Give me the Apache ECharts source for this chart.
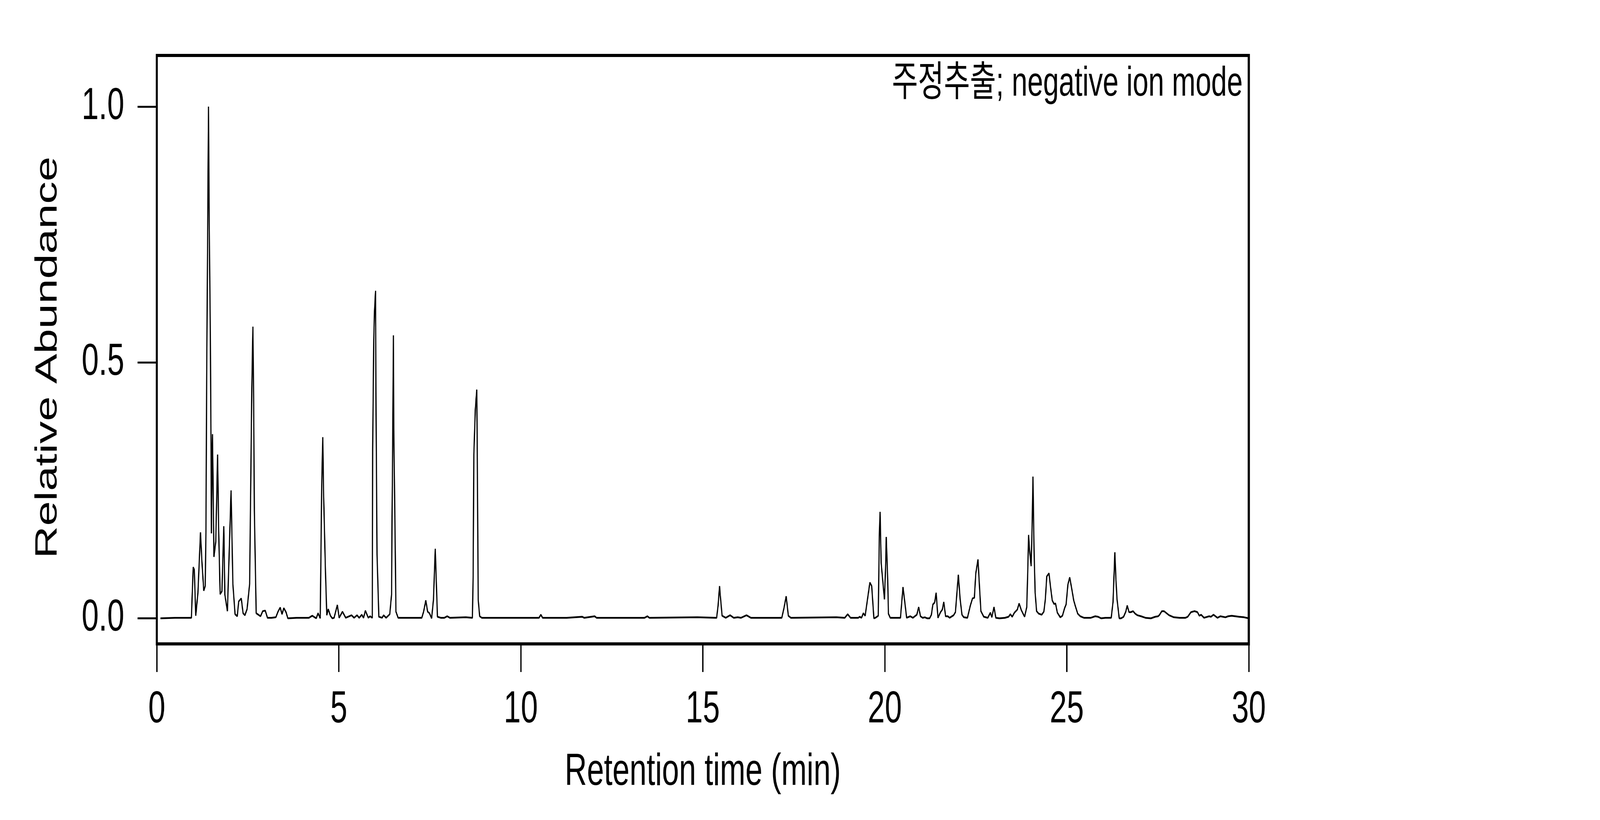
<!DOCTYPE html>
<html>
<head>
<meta charset="utf-8">
<title>Chromatogram</title>
<script src="https://cdn.jsdelivr.net/npm/echarts@6/dist/echarts.min.js"></script>
<style>
  html, body { margin: 0; padding: 0; background: #fff; overflow: hidden; }
  #wrap { width: 6000px; height: 2100px; transform-origin: 0 0; }
  #chart { width: 6000px; height: 2100px; }
</style>
</head>
<body>
<div id="wrap"><div id="chart"></div></div>
<script>
// retention time (min) and relative abundance
const retentionTime = [
  0.10, 0.50, 0.95, 1.00, 1.03, 1.07, 1.13, 1.20, 1.24, 1.29, 1.33, 1.35, 1.37, 1.40, 1.42, 1.43,
  1.44, 1.47, 1.49, 1.50, 1.52, 1.53, 1.55, 1.57, 1.62, 1.67, 1.70, 1.74, 1.79, 1.84, 1.87, 1.94,
  2.04, 2.09, 2.15, 2.21, 2.25, 2.32, 2.37, 2.42, 2.48, 2.55, 2.61, 2.64, 2.66, 2.68, 2.73, 2.85,
  2.91, 2.98, 3.04, 3.15, 3.27, 3.33, 3.39, 3.44, 3.49, 3.55, 3.60, 3.84, 4.18, 4.27, 4.38, 4.43,
  4.49, 4.53, 4.56, 4.58, 4.63, 4.67, 4.71, 4.77, 4.82, 4.87, 4.96, 5.01, 5.10, 5.19, 5.35, 5.42,
  5.50, 5.56, 5.63, 5.68, 5.73, 5.81, 5.86, 5.92, 5.93, 5.96, 5.98, 6.01, 6.02, 6.05, 6.10, 6.19,
  6.23, 6.30, 6.40, 6.45, 6.46, 6.48, 6.50, 6.51, 6.54, 6.57, 6.63, 6.84, 7.28, 7.33, 7.39, 7.44,
  7.49, 7.55, 7.60, 7.65, 7.67, 7.71, 7.80, 7.90, 7.98, 8.05, 8.49, 8.67, 8.69, 8.71, 8.75, 8.79,
  8.80, 8.83, 8.87, 8.93, 10.00, 10.50, 10.55, 10.60, 11.26, 11.69, 11.74, 12.03, 12.08, 13.40, 13.48, 13.53,
  14.85, 15.38, 15.42, 15.46, 15.48, 15.53, 15.63, 15.75, 15.85, 15.96, 16.05, 16.20, 16.32, 17.17, 17.23, 17.29,
  17.35, 17.42, 18.67, 18.90, 18.98, 19.06, 19.27, 19.31, 19.36, 19.41, 19.46, 19.59, 19.64, 19.70, 19.74, 19.82,
  19.85, 19.87, 19.90, 19.99, 20.02, 20.04, 20.08, 20.10, 20.15, 20.28, 20.43, 20.50, 20.60, 20.70, 20.77, 20.88,
  20.93, 20.98, 21.04, 21.10, 21.16, 21.23, 21.28, 21.32, 21.37, 21.41, 21.46, 21.53, 21.58, 21.62, 21.67, 21.73,
  21.78, 21.89, 21.94, 22.02, 22.07, 22.12, 22.17, 22.27, 22.35, 22.41, 22.46, 22.50, 22.56, 22.60, 22.64, 22.72,
  22.83, 22.90, 22.94, 23.00, 23.05, 23.15, 23.30, 23.40, 23.45, 23.50, 23.56, 23.64, 23.69, 23.75, 23.84, 23.90,
  23.93, 23.95, 23.97, 24.02, 24.05, 24.07, 24.10, 24.13, 24.17, 24.23, 24.31, 24.37, 24.41, 24.45, 24.51, 24.55,
  24.60, 24.65, 24.69, 24.74, 24.82, 24.88, 24.94, 24.98, 25.03, 25.08, 25.13, 25.19, 25.23, 25.30, 25.37, 25.47,
  25.66, 25.78, 25.86, 25.94, 26.06, 26.22, 26.27, 26.32, 26.35, 26.38, 26.44, 26.49, 26.56, 26.62, 26.66, 26.71,
  26.76, 26.82, 26.88, 26.94, 27.04, 27.16, 27.31, 27.43, 27.51, 27.55, 27.61, 27.67, 27.81, 27.94, 28.10, 28.26,
  28.32, 28.41, 28.51, 28.59, 28.64, 28.69, 28.77, 28.91, 28.96, 29.03, 29.14, 29.22, 29.36, 29.43, 29.53, 29.63,
  29.73, 29.87, 30.00
];
const abundance = [
  0.000, 0.001, 0.001, 0.100, 0.095, 0.005, 0.050, 0.168, 0.110, 0.054, 0.063, 0.170, 0.470, 0.780, 1.000, 0.880,
  0.770, 0.560, 0.330, 0.166, 0.330, 0.360, 0.240, 0.120, 0.150, 0.320, 0.170, 0.047, 0.053, 0.180, 0.046, 0.014,
  0.250, 0.067, 0.008, 0.004, 0.033, 0.039, 0.010, 0.006, 0.018, 0.067, 0.450, 0.570, 0.430, 0.210, 0.010, 0.004,
  0.014, 0.015, 0.001, 0.001, 0.002, 0.013, 0.021, 0.008, 0.020, 0.012, 0.000, 0.001, 0.001, 0.005, 0.000, 0.010,
  0.000, 0.260, 0.354, 0.250, 0.100, 0.006, 0.018, 0.005, 0.000, 0.001, 0.026, 0.001, 0.013, 0.001, 0.006, 0.001,
  0.006, 0.001, 0.007, 0.001, 0.015, 0.001, 0.004, 0.001, 0.330, 0.544, 0.600, 0.640, 0.440, 0.125, 0.003, 0.001,
  0.006, 0.001, 0.008, 0.047, 0.170, 0.340, 0.553, 0.370, 0.200, 0.013, 0.001, 0.001, 0.001, 0.013, 0.035, 0.013,
  0.010, 0.000, 0.036, 0.136, 0.090, 0.003, 0.001, 0.001, 0.004, 0.001, 0.002, 0.001, 0.080, 0.320, 0.408, 0.447,
  0.360, 0.036, 0.004, 0.001, 0.001, 0.001, 0.007, 0.001, 0.001, 0.003, 0.001, 0.004, 0.001, 0.001, 0.004, 0.001,
  0.002, 0.001, 0.025, 0.063, 0.045, 0.005, 0.001, 0.006, 0.001, 0.002, 0.001, 0.006, 0.001, 0.001, 0.020, 0.043,
  0.005, 0.001, 0.002, 0.001, 0.008, 0.001, 0.001, 0.003, 0.001, 0.010, 0.005, 0.070, 0.063, 0.000, 0.001, 0.005,
  0.164, 0.208, 0.108, 0.037, 0.096, 0.159, 0.075, 0.009, 0.001, 0.001, 0.001, 0.061, 0.001, 0.004, 0.001, 0.007,
  0.022, 0.004, 0.001, 0.002, 0.000, 0.000, 0.007, 0.027, 0.031, 0.050, 0.001, 0.012, 0.017, 0.032, 0.004, 0.004,
  0.001, 0.006, 0.012, 0.085, 0.037, 0.007, 0.002, 0.001, 0.025, 0.039, 0.040, 0.088, 0.115, 0.063, 0.014, 0.003,
  0.001, 0.011, 0.002, 0.022, 0.001, 0.000, 0.001, 0.003, 0.008, 0.003, 0.011, 0.017, 0.029, 0.016, 0.003, 0.022,
  0.100, 0.163, 0.139, 0.102, 0.190, 0.277, 0.134, 0.050, 0.014, 0.009, 0.007, 0.013, 0.037, 0.082, 0.088, 0.063,
  0.035, 0.028, 0.029, 0.011, 0.002, 0.005, 0.020, 0.027, 0.066, 0.080, 0.060, 0.035, 0.025, 0.009, 0.004, 0.001,
  0.001, 0.004, 0.003, 0.000, 0.001, 0.001, 0.032, 0.129, 0.075, 0.037, 0.000, 0.000, 0.003, 0.013, 0.025, 0.012,
  0.012, 0.014, 0.009, 0.006, 0.004, 0.001, 0.000, 0.003, 0.004, 0.007, 0.014, 0.014, 0.006, 0.002, 0.001, 0.001,
  0.003, 0.012, 0.014, 0.012, 0.005, 0.007, 0.001, 0.004, 0.003, 0.007, 0.001, 0.004, 0.002, 0.004, 0.005, 0.004,
  0.003, 0.002, 0.000
];
const xTicks = [0, 5, 10, 15, 20, 25, 30];
const yTicks = [0, 0.5, 1.0];
const note = '주정추출; negative ion mode';

const FONT = "'Liberation Sans', Arial, 'Noto Sans CJK KR', sans-serif";

// the layout is drawn for 6000x2100; stretch it onto whatever window we get
const wrap = document.getElementById('wrap');
const sx = window.innerWidth / 6000;
const sy = window.innerHeight / 2100;
wrap.style.transform = 'scale(' + sx + ',' + sy + ')';

const chart = echarts.init(document.getElementById('chart'));

const option = {
  animation: false,
  backgroundColor: '#fff',
  title: {
    text: note,
    right: 1335,
    top: 158,
    textStyle: {
      fontFamily: FONT,
      fontSize: 106,
      fontWeight: 'normal',
      color: '#000'
    }
  },
  grid: {
    left: 588,
    right: 1317,
    top: 142,
    bottom: 451,
    show: true,
    borderColor: '#000',
    borderWidth: 8
  },
  xAxis: {
    type: 'value',
    min: xTicks[0],
    max: xTicks[xTicks.length - 1],
    interval: 5,
    name: 'Retention time (min)',
    nameLocation: 'middle',
    nameGap: 272,
    nameTextStyle: { fontFamily: FONT, fontSize: 115, color: '#000' },
    axisLine: { onZero: false, lineStyle: { color: '#000', width: 8 } },
    axisTick: { inside: false, length: 72, lineStyle: { color: '#000', width: 5 } },
    axisLabel: { margin: 112, fontFamily: FONT, fontSize: 115, color: '#000' },
    splitLine: { show: false }
  },
  yAxis: {
    type: 'value',
    min: -0.05,
    max: 1.1,
    name: 'Relative Abundance',
    nameLocation: 'middle',
    nameGap: 350,
    nameTextStyle: { fontFamily: FONT, fontSize: 115, color: '#000', padding: [0, 40, 0, 0] },
    axisLine: { onZero: false, lineStyle: { color: '#000', width: 8 } },
    axisTick: {
      inside: false,
      length: 72,
      customValues: yTicks,
      lineStyle: { color: '#000', width: 5 }
    },
    axisLabel: {
      margin: 122,
      customValues: yTicks,
      formatter: (v) => v.toFixed(1),
      fontFamily: FONT,
      fontSize: 115,
      color: '#000'
    },
    splitLine: { show: false }
  },
  series: [
    {
      type: 'line',
      data: retentionTime.map((t, i) => [t, abundance[i]]),
      showSymbol: false,
      symbol: 'none',
      smooth: false,
      sampling: null,
      lineStyle: { color: '#000', width: 4.5 },
      z: 3
    }
  ]
};

chart.setOption(option);
</script>
</body>
</html>
